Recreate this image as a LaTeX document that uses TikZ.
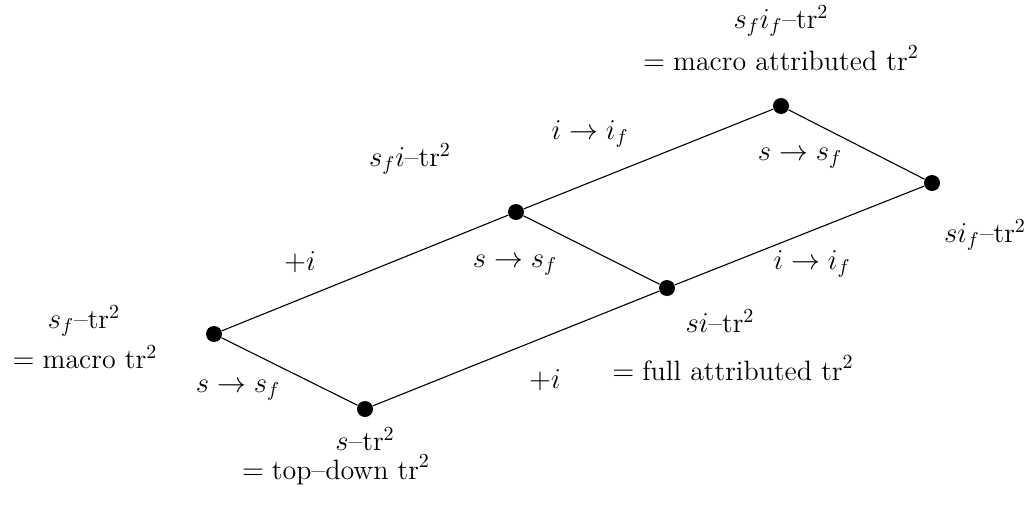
\documentclass[tikz,border=0pt]{standalone}
\begin{document}
\begin{tikzpicture}[x=0.5pt,y=-0.5pt,
  dot/.style={circle,fill=black,inner sep=0pt,minimum size=8pt},
  lbl/.style={inner sep=0pt,font=\fontsize{14}{16}\selectfont},
  edge/.style={line width=0.55pt}]
\useasboundingbox (0,0) rectangle (1032,508);
% vertices
\node[dot] (A) at (214,334) {};
\node[dot] (B) at (365,409) {};
\node[dot] (C) at (516,212) {};
\node[dot] (D) at (667,288) {};
\node[dot] (E) at (781,106) {};
\node[dot] (F) at (932,183) {};
% edges
\draw[edge] (A) -- (B);
\draw[edge] (A) -- (C);
\draw[edge] (B) -- (D);
\draw[edge] (C) -- (D);
\draw[edge] (C) -- (E);
\draw[edge] (D) -- (F);
\draw[edge] (E) -- (F);
% vertex labels
\node[lbl] (lA1) at (84,321) {$s_f$--tr$^2$};
\node[lbl] (lA2) at (85,357) {$= \mbox{macro tr}^2$};
\node[lbl] (lB1) at (365,439) {$s$--tr$^2$};
\node[lbl] (lB2) at (336,470) {$= \mbox{top--down tr}^2$};
\node[lbl] (lC1) at (410,159) {$s_f i$--tr$^2$};
\node[lbl] (lD1) at (720,321) {$s i$--tr$^2$};
\node[lbl] (lD2) at (733,368) {$= \mbox{full attributed tr}^2$};
\node[lbl] (lE1) at (781,21) {$s_f i_f$--tr$^2$};
\node[lbl] (lE2) at (781,58) {$= \mbox{macro attributed tr}^2$};
\node[lbl] (lF1) at (985,235) {$s i_f$--tr$^2$};
% edge labels
\node[lbl] (eAB) at (238,390) {$s \to s_f$};
\node[lbl] (eAC) at (300,262) {$+i$};
\node[lbl] (eBD) at (545,380) {$+i$};
\node[lbl] (eCD) at (515,265) {$s \to s_f$};
\node[lbl] (eCE) at (590,134) {$i \to i_f$};
\node[lbl] (eEF) at (800,158) {$s \to s_f$};
\node[lbl] (eDF) at (812,264) {$i \to i_f$};
\end{tikzpicture}
\end{document}
